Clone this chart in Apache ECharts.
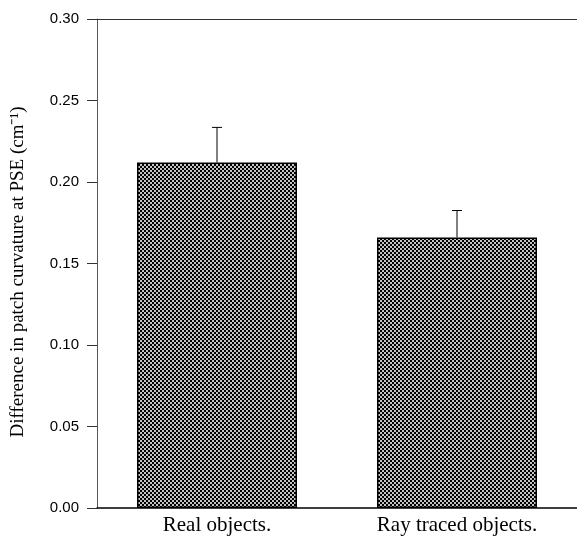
<!DOCTYPE html>
<html>
<head>
<meta charset="utf-8">
<style>html,body{margin:0;padding:0;background:#fff;}#chart{width:577px;height:536px;}</style>
<script src="https://cdn.jsdelivr.net/npm/echarts@6/dist/echarts.min.js"></script>
</head>
<body>
<div id="chart"></div>
<script>
const categories = ['Real objects.', 'Ray traced objects.'];
const values = [0.212, 0.166];
const errors = [0.0215, 0.0165];
const yTicks = [0, 0.05, 0.10, 0.15, 0.20, 0.25, 0.30];
const yTitle = 'Difference in patch curvature at PSE (cm\u207B\u00B9)';

// checker pattern fill
const pc = document.createElement('canvas');
pc.width = 4; pc.height = 4;
const pctx = pc.getContext('2d');
pctx.fillStyle = '#000'; pctx.fillRect(0, 0, 4, 4);
pctx.fillStyle = '#c4c4c4';
pctx.fillRect(0, 0, 2, 2);
pctx.fillRect(2, 2, 2, 2);

const chart = echarts.init(document.getElementById('chart'), null, {renderer: 'canvas'});
chart.setOption({
  animation: false,
  backgroundColor: '#fff',
  grid: {left: 97, right: 0, top: 19, bottom: 28},
  xAxis: [{
    type: 'category',
    data: categories,
    axisLine: {show: true, lineStyle: {color: '#000', width: 1.5}},
    axisTick: {show: false},
    axisLabel: {color: '#000', fontFamily: 'Liberation Serif', fontSize: 21, margin: 7}
  }, {
    type: 'category',
    position: 'top',
    data: categories,
    axisLine: {show: true, lineStyle: {color: '#333', width: 1}},
    axisTick: {show: false},
    axisLabel: {show: false}
  }],
  yAxis: {
    type: 'value',
    min: yTicks[0],
    max: yTicks[yTicks.length - 1],
    interval: 0.05,
    axisLine: {show: true, lineStyle: {color: '#555', width: 1}},
    axisTick: {show: true, length: 10, lineStyle: {color: '#333'}},
    splitLine: {show: false},
    axisLabel: {
      color: '#000', fontFamily: 'Liberation Sans', fontSize: 15, margin: 18,
      formatter: v => v.toFixed(2)
    }
  },
  graphic: [{
    type: 'text',
    x: 18, y: 272,
    rotation: Math.PI / 2,
    style: {
      text: yTitle,
      font: '19px "Liberation Serif"',
      fill: '#000',
      align: 'center',
      verticalAlign: 'middle'
    }
  }],
  series: [{
    type: 'bar',
    data: values,
    barWidth: 160,
    itemStyle: {
      color: {image: pc, repeat: 'repeat'},
      borderColor: '#000',
      borderWidth: 1.5
    }
  }, {
    type: 'custom',
    data: values.map((v, i) => [i, v, errors[i]]),
    renderItem: function (params, api) {
      const i = api.value(0);
      const v = api.value(1);
      const e = api.value(2);
      const p0 = api.coord([i, v]);
      const p1 = api.coord([i, v + e]);
      const hw = 5;
      return {
        type: 'group',
        children: [{
          type: 'line',
          shape: {x1: p0[0], y1: p0[1], x2: p1[0], y2: p1[1]},
          style: {stroke: '#000', lineWidth: 1}
        }, {
          type: 'line',
          shape: {x1: p1[0] - hw, y1: p1[1], x2: p1[0] + hw, y2: p1[1]},
          style: {stroke: '#000', lineWidth: 1}
        }]
      };
    },
    z: 3
  }]
});
</script>
</body>
</html>
